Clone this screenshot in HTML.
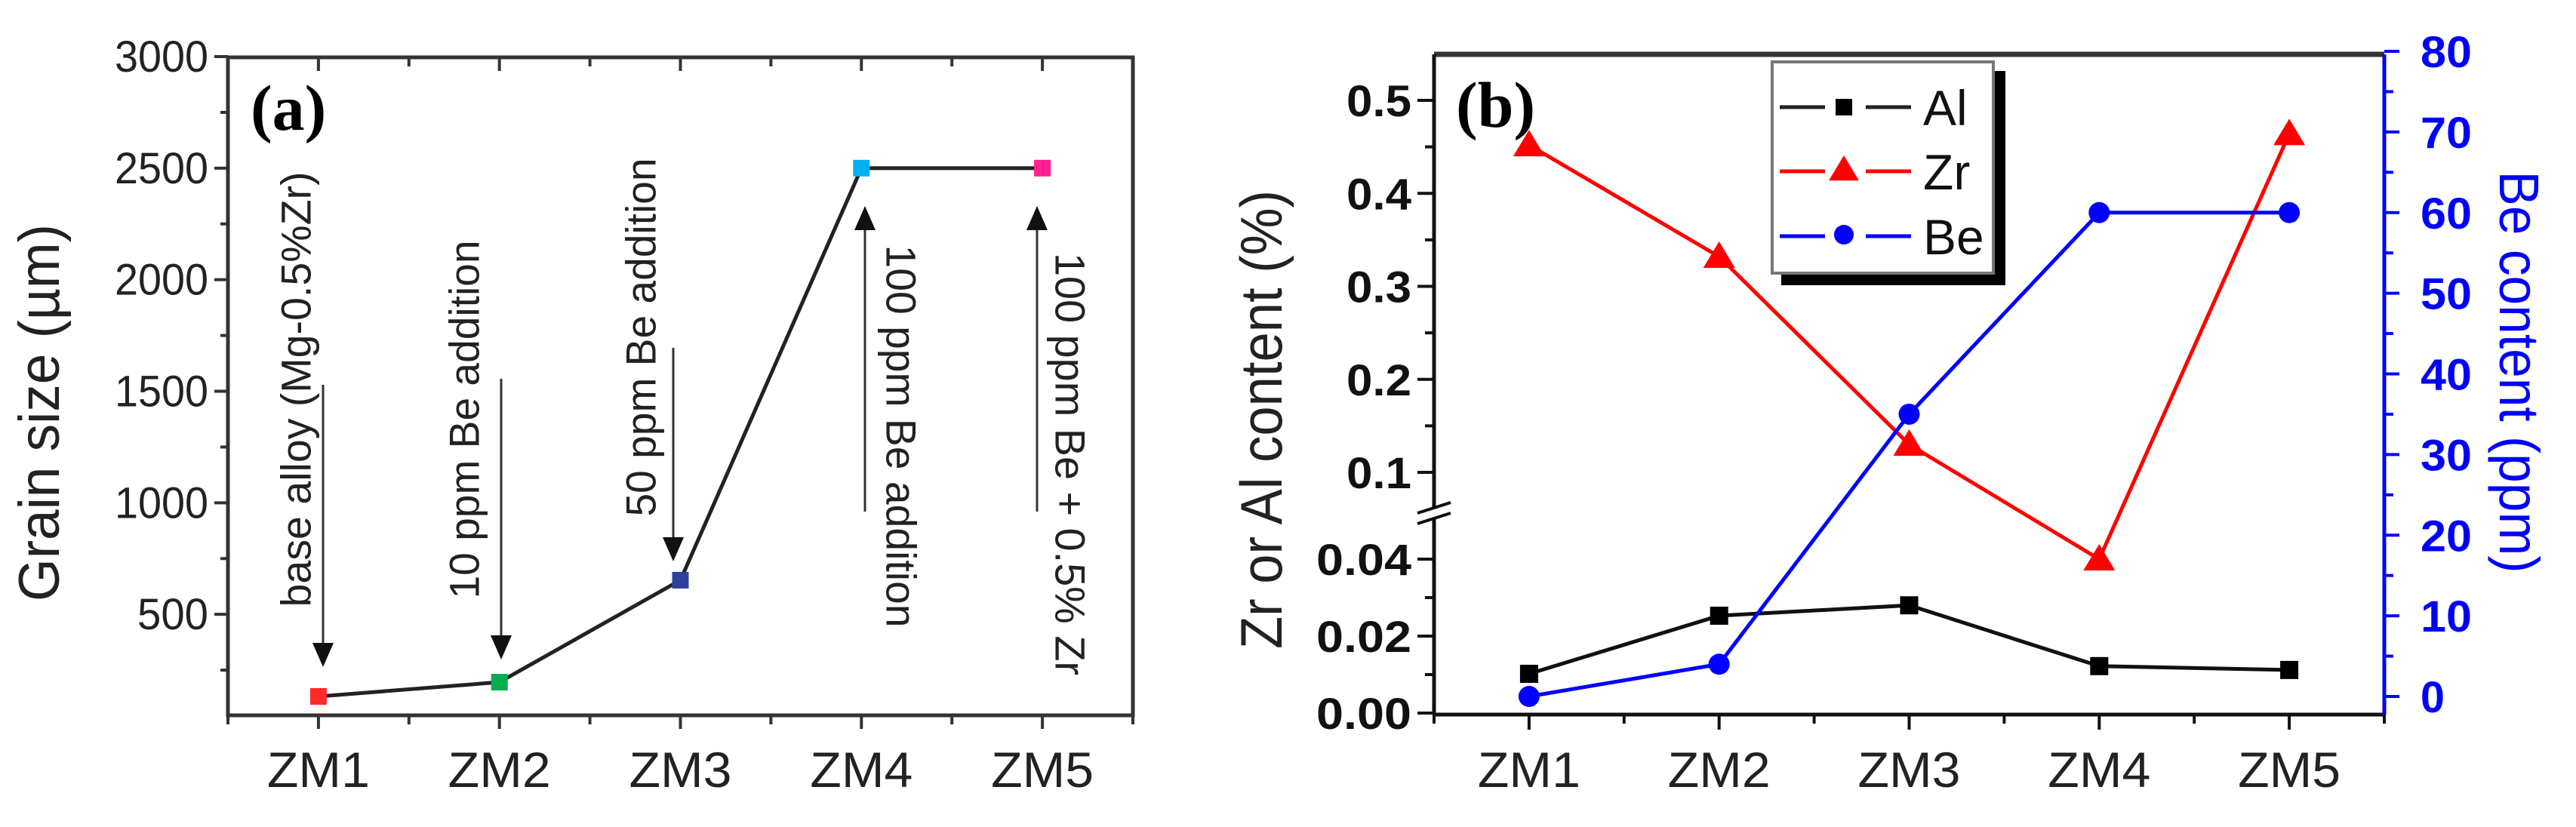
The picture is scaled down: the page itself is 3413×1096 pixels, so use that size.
<!DOCTYPE html>
<html><head><meta charset="utf-8"><style>
html,body{margin:0;padding:0;background:#fff;}
svg{display:block;}
text{font-family:"Liberation Sans",sans-serif;}
</style></head><body>
<svg id="fig" width="3413" height="1096" viewBox="0 0 3413 1096" xmlns="http://www.w3.org/2000/svg">
<g id="chartA"></g>
<g id="chartB"></g>
</svg>
<script>
const NS="http://www.w3.org/2000/svg";
// ---- Chart (a) data ----
const catsA=["ZM1","ZM2","ZM3","ZM4","ZM5"];
const grainSize=[132,196,653,2500,2500];
const grainColors=["#ff2a2a","#00b050","#2e3f9e","#00b0f0","#ff1f8f"];
const yTicksA=[500,1000,1500,2000,2500,3000];
// ---- Chart (b) data ----
const catsB=["ZM1","ZM2","ZM3","ZM4","ZM5"];
const alVals=[0.0102,0.0253,0.028,0.0122,0.0112];
const zrVals=[0.452,0.332,0.130,0.040,0.464];
const beVals=[0,4,35,60,60];
const yTicksBLow=["0.00","0.02","0.04"];
const yTicksBHigh=["0.1","0.2","0.3","0.4","0.5"];
const yTicksBRight=[0,10,20,30,40,50,60,70,80];

function el(tag,attrs,parent,text){const e=document.createElementNS(NS,tag);for(const k in attrs)e.setAttribute(k,attrs[k]);if(text!==undefined)e.textContent=text;parent.appendChild(e);return e;}

// ===== Chart A =====
const A=document.getElementById('chartA');
const aL=302,aR=1501,aT=76,aB=948;
const xA=i=>aL+(i+0.5)*(aR-aL)/5;
const yA=v=>962-v*(962-75)/3000;
let g=el('g',{},A);

el('rect',{x:aL,y:aT,width:aR-aL,height:aB-aT,fill:'none',stroke:'#333',"stroke-width":5},g);
for(let v=250;v<=3000;v+=250){const y=yA(v);const major=v%500===0;
 el('line',{x1:aL-(major?18:10),x2:aL,y1:y,y2:y,stroke:'#333',"stroke-width":4},g);}
yTicksA.forEach(v=>{const t=el('text',{x:aL-26,y:yA(v)+20,"text-anchor":"end","font-size":58,fill:'#222',textLength:v>=1000?124:94,lengthAdjust:"spacingAndGlyphs"},A,String(v));
 });
for(let k=0;k<=10;k++){const x=aL+k*(aR-aL)/10;const major=k%2===1;
 el('line',{x1:x,x2:x,y1:aB,y2:aB+(major?18:12),stroke:'#333',"stroke-width":4},g);
 el('line',{x1:x,x2:x,y1:aT,y2:aT+(major?18:12),stroke:'#333',"stroke-width":4},g);}
catsA.forEach((c,i)=>{const t=el('text',{x:xA(i),y:1043,"text-anchor":"middle","font-size":66,fill:'#222',textLength:136,lengthAdjust:"spacingAndGlyphs"},A,c);
 });
let t=el('text',{transform:`translate(78,547) rotate(-90)`,"text-anchor":"middle","font-size":76,fill:'#222',textLength:500,lengthAdjust:"spacingAndGlyphs"},A,"Grain size (µm)");

t=el('text',{x:332,y:172,"font-size":86,"font-weight":"bold",fill:'#000'},A,"(a)");
t.style.fontFamily='"Liberation Serif",serif';

let pts=grainSize.map((v,i)=>xA(i)+','+yA(v)).join(' ');
let pl=el('polyline',{points:pts,fill:'none',stroke:'#222',"stroke-width":5},A);

grainSize.forEach((v,i)=>{const r=el('rect',{x:xA(i)-11,y:yA(v)-11,width:22,height:22,fill:grainColors[i]},A);
 });
const ann=[
 {ax:428,y1:510,y2:884,dir:'down',tx:392,ty:516,txt:'base alloy (Mg-0.5%Zr)',rot:-90,len:577},
 {ax:664,y1:502,y2:874,dir:'down',tx:615,ty:556,txt:'10 ppm Be addition',rot:-90,len:475},
 {ax:892,y1:461,y2:744,dir:'down',tx:849,ty:447,txt:'50 ppm Be addition',rot:-90,len:475},
 {ax:1146,y1:678,y2:273,dir:'up',tx:1194,ty:578,txt:'100 ppm Be addition',rot:90,len:507},
 {ax:1374,y1:678,y2:273,dir:'up',tx:1418,ty:615,txt:'100 ppm Be + 0.5% Zr',rot:90,len:560}];
ann.forEach((a,i)=>{const gg=el('g',{},A);
 
 const tipOff=a.dir==='down'?-32:32;
 el('line',{x1:a.ax,x2:a.ax,y1:a.y1,y2:a.y2+tipOff,stroke:'#333',"stroke-width":3},gg);
 const hy=a.y2, by=a.y2+tipOff;
 el('polygon',{points:`${a.ax},${hy} ${a.ax-14},${by} ${a.ax+14},${by}`,fill:'#111'},gg);
 el('text',{transform:`translate(${a.tx},${a.ty}) rotate(${a.rot})`,"text-anchor":"middle","dominant-baseline":"central","font-size":56,fill:'#222',textLength:a.len,lengthAdjust:"spacingAndGlyphs"},gg,a.txt);
});

// ===== Chart B =====
const B=document.getElementById('chartB');
const bL=1900,bR=3159,bT=72,bB=947;
const xB=i=>bL+(i+0.5)*(bR-bL)/5;
const yLow=v=>945-v*(945-741)/0.04;
const yHigh=v=>626-(v-0.1)*(626-133)/0.4;
const yB=v=>v<=0.06?yLow(v):yHigh(v);
const yR=v=>923-v*(923-68)/80;
g=el('g',{},B);
el('line',{x1:bL,x2:bR,y1:bT,y2:bT,stroke:'#333',"stroke-width":7},g);
el('line',{x1:bL,x2:bR,y1:bB,y2:bB,stroke:'#111',"stroke-width":5},g);
el('line',{x1:bL,x2:bL,y1:bT,y2:bB,stroke:'#111',"stroke-width":5},g);
el('line',{x1:bR,x2:bR,y1:bT,y2:bB,stroke:'#0000ff',"stroke-width":5},g);
[0,0.01,0.02,0.03,0.04].forEach((v,k)=>{const y=yLow(v);el('line',{x1:bL-(k%2===0?22:12),x2:bL,y1:y,y2:y,stroke:'#111',"stroke-width":4},g);});
[0.1,0.15,0.2,0.25,0.3,0.35,0.4,0.45,0.5].forEach((v,k)=>{const y=yHigh(v);el('line',{x1:bL-(k%2===0?22:12),x2:bL,y1:y,y2:y,stroke:'#111',"stroke-width":4},g);});
el('rect',{x:bL-14,y:672,width:28,height:16,fill:'#fff'},g);
el('line',{x1:bL-22,x2:bL+22,y1:680,y2:666,stroke:'#111',"stroke-width":4},g);
el('line',{x1:bL-22,x2:bL+22,y1:694,y2:680,stroke:'#111',"stroke-width":4},g);
yTicksBLow.forEach(s=>{const tt=el('text',{x:bL-30,y:yLow(parseFloat(s))+21,"text-anchor":"end","font-size":58,"font-weight":"bold",fill:'#111',textLength:126,lengthAdjust:"spacingAndGlyphs"},B,s);
 });
yTicksBHigh.forEach(s=>{const tt=el('text',{x:bL-30,y:yHigh(parseFloat(s))+21,"text-anchor":"end","font-size":58,"font-weight":"bold",fill:'#111',textLength:86,lengthAdjust:"spacingAndGlyphs"},B,s);
 });
for(let v=0;v<=80;v+=5){const y=yR(v);el('line',{x1:bR,x2:bR+(v%10===0?20:12),y1:y,y2:y,stroke:'#0000ff',"stroke-width":4},g);}
yTicksBRight.forEach(v=>{const tt=el('text',{x:bR+48,y:yR(v)+21,"font-size":58,"font-weight":"bold",fill:'#0000ff',textLength:v>=10?68:32,lengthAdjust:"spacingAndGlyphs"},B,String(v));
 });
for(let k=0;k<=10;k++){const x=bL+k*(bR-bL)/10;const major=k%2===1;
 el('line',{x1:x,x2:x,y1:bB,y2:bB+(major?20:12),stroke:'#111',"stroke-width":4},g);}
catsB.forEach((c,i)=>{const tt=el('text',{x:xB(i),y:1043,"text-anchor":"middle","font-size":66,fill:'#222',textLength:136,lengthAdjust:"spacingAndGlyphs"},B,c);
 });
t=el('text',{transform:`translate(1698,556) rotate(-90)`,"text-anchor":"middle","font-size":78,fill:'#222',textLength:608,lengthAdjust:"spacingAndGlyphs"},B,"Zr or Al content (%)");

t=el('text',{transform:`translate(3312,493) rotate(90)`,"text-anchor":"middle","font-size":74,fill:'#0000ff',textLength:533,lengthAdjust:"spacingAndGlyphs"},B,"Be content (ppm)");

t=el('text',{x:1929,y:168,"font-size":86,"font-weight":"bold",fill:'#000'},B,"(b)");
t.style.fontFamily='"Liberation Serif",serif';

function tri(x,y,s,fill,parent){return el('polygon',{points:`${x},${y-s} ${x-s*1.05},${y+s*0.75} ${x+s*1.05},${y+s*0.75}`,fill:fill},parent);}
let sg=el('g',{},B);
el('polyline',{points:zrVals.map((v,i)=>xB(i)+','+yB(v)).join(' '),fill:'none',stroke:'#ff0000',"stroke-width":5},sg);
zrVals.forEach((v,i)=>{const m=tri(xB(i),yB(v),20,'#ff0000',sg);});
sg=el('g',{},B);
el('polyline',{points:alVals.map((v,i)=>xB(i)+','+yB(v)).join(' '),fill:'none',stroke:'#111',"stroke-width":5},sg);
alVals.forEach((v,i)=>{const m=el('rect',{x:xB(i)-12,y:yB(v)-12,width:24,height:24,fill:'#000'},sg);});
sg=el('g',{},B);
el('polyline',{points:beVals.map((v,i)=>xB(i)+','+yR(v)).join(' '),fill:'none',stroke:'#0000ff',"stroke-width":5},sg);
beVals.forEach((v,i)=>{const m=el('circle',{cx:xB(i),cy:yR(v),r:14,fill:'#0000ff'},sg);});
const lg=el('g',{},B);
el('rect',{x:2360,y:94,width:297,height:284,fill:'#000'},lg);
el('rect',{x:2348,y:82,width:293,height:280,fill:'#fff',stroke:'#777',"stroke-width":4},lg);
const legItems=[{n:'Al',c:'#222',y:142,m:'sq'},{n:'Zr',c:'#ff0000',y:227,m:'tri'},{n:'Be',c:'#0000ff',y:313,m:'ci'}];
legItems.forEach(it=>{const e=el('g',{},lg);
 el('line',{x1:2358,x2:2418,y1:it.y,y2:it.y,stroke:it.c,"stroke-width":5},e);
 el('line',{x1:2472,x2:2532,y1:it.y,y2:it.y,stroke:it.c,"stroke-width":5},e);
 if(it.m==='sq')el('rect',{x:2432,y:it.y-11,width:22,height:22,fill:'#000'},e);
 else if(it.m==='tri')tri(2443,it.y-2,19,'#ff0000',e);
 else el('circle',{cx:2443,cy:it.y-2,r:13,fill:'#0000ff'},e);
 el('text',{x:2548,y:it.y+24,"font-size":66,fill:'#111'},e,it.n);
});
</script>
</body></html>
